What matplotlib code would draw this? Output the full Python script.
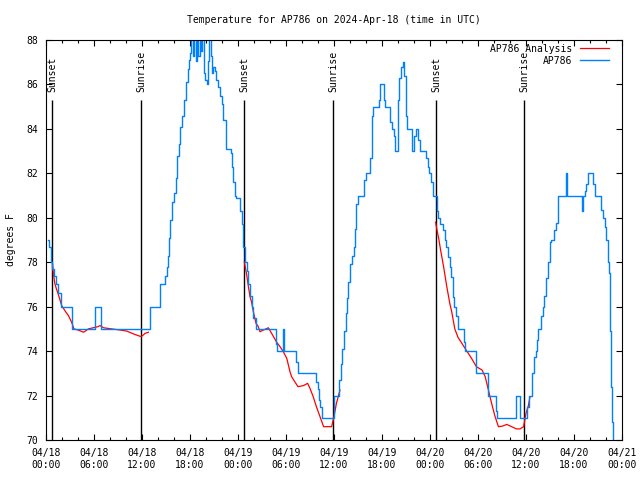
import matplotlib
matplotlib.use("Agg")
import matplotlib.pyplot as plt

# hours since 2024-04-18 00:00 UTC
blue_h = [0.25, 0.42, 0.58, 0.8, 1.05, 1.3, 1.55, 1.83, 3.3, 6.1, 6.9, 13.0, 14.3, 14.9, 15.1,
          15.25, 15.4, 15.5, 15.75, 15.96, 16.2, 16.4, 16.6, 16.7, 17.0, 17.3, 17.5, 17.7, 17.9,
          18.0, 18.1, 18.4, 18.55, 18.7, 18.9, 19.05, 19.2, 19.4, 19.5, 19.75, 19.9, 20.1, 20.2,
          20.4, 20.6, 20.7, 20.9, 21.1, 21.3, 21.55, 21.75, 21.96, 22.15, 22.5, 23.1, 23.2, 23.4,
          23.6, 23.8, 24.2, 24.45, 24.65, 24.85, 25.1, 25.3, 25.5, 25.7, 25.9, 26.25, 28.8, 28.9,
          29.65, 29.8, 31.3, 31.5, 33.8, 33.95, 34.1, 34.3, 34.5, 36.0, 36.6, 36.85, 37.05, 37.3,
          37.5, 37.65, 37.8, 38.0, 38.2, 38.5, 38.6, 38.8, 38.96, 39.7, 40.0, 40.5, 40.7, 40.8,
          40.9, 41.6, 41.8, 42.25, 42.4, 43.0, 43.2, 43.45, 43.6, 43.95, 44.1, 44.4, 44.6, 44.8,
          44.95, 45.05, 45.15, 45.8, 45.95, 46.2, 46.5, 46.7, 47.5, 47.7, 47.9, 48.1, 48.35,
          48.85, 49.05, 49.25, 49.6, 49.85, 50.05, 50.25, 50.45, 50.65, 50.85, 51.05, 51.3,
          51.5, 52.25, 52.4, 53.75, 55.2, 56.2, 56.4, 58.75, 59.3, 60.15, 60.35, 60.75, 60.95,
          61.2, 61.4, 61.55, 61.9, 62.1, 62.3, 62.5, 62.75, 62.95, 63.1, 63.55, 63.75, 63.95,
          64.05, 65.0, 65.15, 67.05, 67.15, 67.4, 67.55, 67.75, 68.4, 68.65, 69.4, 69.6, 69.85,
          70.05, 70.25, 70.35, 70.45, 70.55, 70.65, 70.8, 70.9, 71.0]
blue_t = [79.0, 78.7, 78.0, 77.7, 77.4, 77.0, 76.6, 76.0, 75.0, 76.0, 75.0, 76.0, 77.0, 77.4, 77.8,
          78.3, 79.1, 79.9, 80.7, 81.1, 81.8, 82.8, 83.3, 84.1, 84.6, 85.3, 86.1, 86.7, 87.1,
          87.4, 88.5, 87.3, 88.5, 87.05, 88.5, 87.3, 88.5, 87.5, 88.5, 86.5, 86.2, 86.0, 87.05,
          88.5, 87.3, 86.5, 86.8, 86.6, 86.2, 85.9, 85.5, 85.1, 84.4, 83.1, 82.9, 82.3, 81.6,
          81.0, 80.9, 80.3, 79.7, 78.7, 78.0, 77.6, 77.0, 76.5, 76.0, 75.5, 75.0, 74.3, 74.0,
          75.0, 74.0, 73.5, 73.0, 72.6, 72.3, 71.8, 71.5, 71.0, 72.0, 72.7, 73.4, 74.1, 74.9,
          75.7, 76.4, 77.1, 77.9, 78.3, 78.7, 79.5, 80.6, 81.0, 81.7, 82.0, 82.7, 83.5, 84.6,
          85.0, 85.3, 86.0, 85.3, 85.0, 84.3, 84.0, 83.7, 83.0, 85.3, 86.3, 86.8, 87.0, 86.4,
          85.4, 84.6, 84.0, 83.0, 83.7, 84.0, 83.5, 83.0, 82.7, 82.3, 82.0, 81.6, 81.0,
          80.3, 80.0, 79.7, 79.45, 79.0, 78.7, 78.25, 77.8, 77.35, 76.45, 76.0, 75.6,
          75.0, 74.4, 74.0, 73.0, 72.0, 71.3, 71.0, 72.0, 71.0, 71.5, 72.0, 73.0, 73.75,
          74.0, 74.5, 75.0, 75.6, 76.0, 76.5, 77.3, 78.0, 78.9, 79.0, 79.45, 79.75, 80.65,
          81.0, 82.0, 81.0, 80.3, 81.0, 81.2, 81.5, 82.0, 81.5, 81.0, 80.35, 80.0, 79.6,
          79.0, 78.0, 77.5, 75.6, 74.9, 72.4, 70.8, 69.0, 69.0]

red1_h = [0.79, 0.92, 1.1, 1.3, 1.5, 1.75, 1.96, 2.4, 2.8, 3.2, 3.5, 4.0, 4.7, 5.3, 5.9, 6.5,
          6.75, 7.2, 8.2, 9.25, 10.1, 11.1, 11.9, 12.4, 12.8]
red1_t = [78.0, 77.5, 77.05, 76.8, 76.6, 76.3, 76.05, 75.8, 75.6, 75.3, 75.0, 74.95, 74.85, 75.0,
          75.05, 75.1, 75.15, 75.05, 75.0, 74.95, 74.9, 74.75, 74.65, 74.8, 74.85]
red2_h = [24.8, 25.1, 25.3, 25.5, 25.7, 25.9, 26.25, 26.54, 26.75, 27.17, 27.8, 28.2, 28.8, 29.25,
          29.67, 30.1, 30.5, 30.7, 31.1, 31.5, 32.2, 32.7, 33.0, 33.4, 33.8, 34.25, 34.7, 35.7,
          36.0, 36.3, 36.75]
red2_t = [78.0, 77.4, 76.9, 76.45, 76.2, 75.8, 75.25, 75.1, 74.87, 74.95, 75.05, 74.8, 74.42, 74.2,
          73.97, 73.67, 73.07, 72.85, 72.62, 72.4, 72.45, 72.55, 72.32, 71.95, 71.5, 71.05, 70.6,
          70.6, 71.05, 71.65, 72.25]
red3_h = [48.7, 48.9, 49.1, 49.3, 49.5, 49.7, 49.9, 50.1, 50.3, 50.5, 50.7, 50.9, 51.1, 51.5, 51.95,
          52.6, 53.2, 53.8, 54.5, 54.9, 55.3, 55.7, 56.1, 56.55, 57.0, 57.6, 58.2, 58.8, 59.25,
          59.7, 59.8, 60.0, 60.3, 60.5]
red3_t = [79.8, 79.4, 79.05, 78.6, 78.2, 77.8, 77.35, 76.9, 76.5, 76.1, 75.8, 75.4, 75.0, 74.62,
          74.37, 74.0, 73.67, 73.3, 73.15, 72.85, 72.25, 71.65, 71.1, 70.6, 70.62, 70.7, 70.6,
          70.5, 70.5, 70.6, 70.8, 71.2, 71.55, 71.95]

sun_h = [0.75, 11.9, 24.75, 35.9, 48.75, 59.8]
sun_lbl = ["Sunset", "Sunrise", "Sunset", "Sunrise", "Sunset", "Sunrise"]

tick_h = [0, 6, 12, 18, 24, 30, 36, 42, 48, 54, 60, 66, 72]
tick_lbl = ["04/18\n00:00", "04/18\n06:00", "04/18\n12:00", "04/18\n18:00",
            "04/19\n00:00", "04/19\n06:00", "04/19\n12:00", "04/19\n18:00",
            "04/20\n00:00", "04/20\n06:00", "04/20\n12:00", "04/20\n18:00",
            "04/21\n00:00"]

plt.rcParams['font.family'] = ['DejaVu Sans Mono']
plt.rcParams['font.size'] = 7

fig = plt.figure(figsize=(6.4, 4.8), dpi=100)
ax = fig.add_axes([46 / 640, 40 / 480, 576 / 640, 400 / 480])

# sunrise / sunset markers
ax.vlines(sun_h, 70, 85.3, color='black', lw=1)
for h, s in zip(sun_h, sun_lbl):
    ax.text(h, 85.65, s, rotation=90, ha='center', va='bottom', fontsize=7)

ax.plot(red1_h, red1_t, color='#ff0000', lw=0.9, label='AP786 Analysis')
ax.plot(red2_h, red2_t, color='#ff0000', lw=0.9)
ax.plot(red3_h, red3_t, color='#ff0000', lw=0.9)
ax.plot(blue_h, blue_t, color='#0080ff', lw=1.0, drawstyle='steps-post', label='AP786')

ax.set_xlim(0, 72)
ax.set_ylim(70, 88)
ax.set_xticks(tick_h)
ax.set_xticklabels(tick_lbl)
ax.set_xticks(range(0, 73, 2), minor=True)
ax.set_yticks(range(70, 89, 2))
ax.tick_params(which='both', direction='in', top=True, right=True, width=0.8)
ax.tick_params(which='major', length=4.5, pad=6)
ax.tick_params(which='minor', length=2.5)
for sp in ax.spines.values():
    sp.set_linewidth(0.8)

ax.set_ylabel('degrees F')
ax.yaxis.set_label_coords(-0.052, 0.5)
ax.set_title('Temperature for AP786 on 2024-Apr-18 (time in UTC)', fontsize=7, pad=12.5)
ax.legend(loc='upper right', bbox_to_anchor=(1 - 6 / 576, 1 + 3 / 400), frameon=False,
          markerfirst=False, handlelength=3.0, borderaxespad=0.3, labelspacing=0.2, fontsize=7)

fig.savefig('out.png', dpi=100)
